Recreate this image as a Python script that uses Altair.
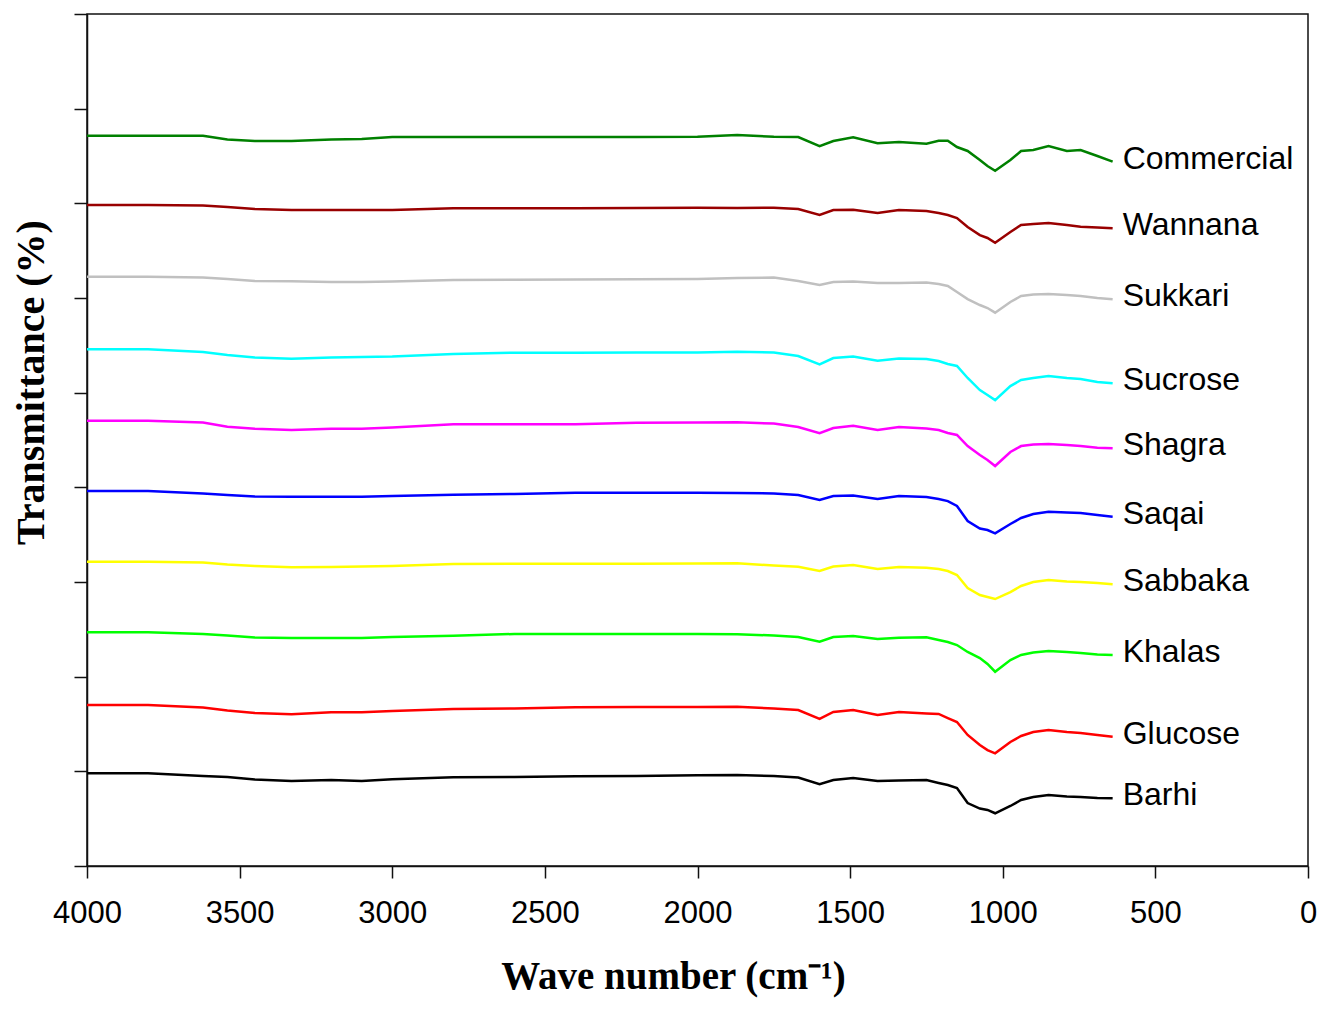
import altair as alt
import pandas as pd

# Wavenumber grid (cm^-1)
wn = [4000, 3800, 3620, 3540, 3450, 3330, 3200, 3100, 3000, 2800, 2600, 2400, 2200, 2000,
      1870, 1750, 1670, 1600, 1555, 1490, 1410, 1340, 1250, 1210, 1180, 1150, 1115, 1075,
      1050, 1025, 975, 940, 900, 850, 790, 745, 690, 640]

commercial = [7.714, 7.714, 7.714, 7.674, 7.658, 7.658, 7.674, 7.679, 7.700, 7.700, 7.700, 7.700, 7.700, 7.704,
              7.722, 7.704, 7.700, 7.605, 7.658, 7.697, 7.634, 7.648, 7.630, 7.661, 7.661, 7.595, 7.553, 7.457,
              7.394, 7.344, 7.457, 7.553, 7.563, 7.605, 7.553, 7.563, 7.500, 7.440]
wannana = [6.982, 6.982, 6.977, 6.961, 6.940, 6.929, 6.929, 6.929, 6.929, 6.947, 6.947, 6.947, 6.950, 6.954,
           6.950, 6.954, 6.940, 6.877, 6.929, 6.933, 6.898, 6.929, 6.919, 6.898, 6.877, 6.845, 6.750, 6.665,
           6.634, 6.584, 6.697, 6.771, 6.781, 6.792, 6.771, 6.753, 6.744, 6.736]
sukkari = [6.225, 6.225, 6.216, 6.200, 6.179, 6.176, 6.169, 6.169, 6.174, 6.190, 6.193, 6.195, 6.197, 6.200,
           6.211, 6.216, 6.179, 6.137, 6.169, 6.174, 6.158, 6.158, 6.164, 6.148, 6.127, 6.063, 5.989, 5.926,
           5.894, 5.845, 5.958, 6.021, 6.037, 6.042, 6.031, 6.021, 6.000, 5.986]
sucrose = [5.458, 5.458, 5.429, 5.398, 5.371, 5.359, 5.371, 5.377, 5.382, 5.408, 5.422, 5.422, 5.424, 5.424,
           5.433, 5.424, 5.387, 5.299, 5.366, 5.382, 5.337, 5.361, 5.355, 5.334, 5.303, 5.282, 5.155, 5.028,
           4.975, 4.922, 5.070, 5.134, 5.155, 5.176, 5.155, 5.144, 5.112, 5.099]
shagra = [4.704, 4.704, 4.685, 4.640, 4.619, 4.605, 4.619, 4.619, 4.632, 4.666, 4.666, 4.666, 4.683, 4.685,
          4.687, 4.674, 4.637, 4.571, 4.627, 4.651, 4.605, 4.637, 4.621, 4.605, 4.574, 4.553, 4.436, 4.341,
          4.289, 4.225, 4.373, 4.436, 4.452, 4.458, 4.447, 4.436, 4.419, 4.412]
saqai = [3.961, 3.961, 3.935, 3.919, 3.903, 3.901, 3.901, 3.901, 3.908, 3.922, 3.929, 3.943, 3.943, 3.943,
         3.940, 3.935, 3.919, 3.866, 3.908, 3.914, 3.877, 3.908, 3.898, 3.877, 3.855, 3.803, 3.644, 3.565,
         3.549, 3.514, 3.613, 3.676, 3.718, 3.742, 3.734, 3.729, 3.708, 3.690]
sabbaka = [3.214, 3.214, 3.206, 3.185, 3.169, 3.155, 3.158, 3.164, 3.169, 3.190, 3.193, 3.193, 3.193, 3.195,
           3.197, 3.174, 3.162, 3.116, 3.164, 3.179, 3.137, 3.158, 3.151, 3.137, 3.116, 3.074, 2.937, 2.863,
           2.841, 2.820, 2.894, 2.958, 3.000, 3.021, 3.005, 3.000, 2.989, 2.976]
khalas = [2.469, 2.469, 2.451, 2.435, 2.414, 2.408, 2.408, 2.408, 2.419, 2.433, 2.451, 2.451, 2.451, 2.451,
          2.447, 2.435, 2.419, 2.369, 2.419, 2.429, 2.398, 2.412, 2.416, 2.387, 2.366, 2.334, 2.261, 2.197,
          2.134, 2.052, 2.176, 2.229, 2.255, 2.271, 2.261, 2.250, 2.234, 2.229]
glucose = [1.701, 1.701, 1.674, 1.643, 1.616, 1.602, 1.624, 1.624, 1.637, 1.658, 1.664, 1.676, 1.680, 1.680,
           1.683, 1.664, 1.648, 1.553, 1.627, 1.648, 1.595, 1.627, 1.611, 1.606, 1.563, 1.521, 1.384, 1.278,
           1.225, 1.190, 1.310, 1.373, 1.415, 1.437, 1.415, 1.405, 1.384, 1.366]
barhi = [0.979, 0.979, 0.951, 0.940, 0.914, 0.898, 0.908, 0.898, 0.916, 0.937, 0.940, 0.948, 0.951, 0.958,
         0.961, 0.951, 0.935, 0.863, 0.908, 0.930, 0.898, 0.903, 0.908, 0.877, 0.856, 0.824, 0.665, 0.607,
         0.592, 0.557, 0.634, 0.697, 0.729, 0.750, 0.734, 0.729, 0.718, 0.715]

names = ["Commercial", "Wannana", "Sukkari", "Sucrose", "Shagra",
         "Saqai", "Sabbaka", "Khalas", "Glucose", "Barhi"]
series = [commercial, wannana, sukkari, sucrose, shagra, saqai, sabbaka, khalas, glucose, barhi]
colors = ["#008000", "#990000", "#C0C0C0", "#00FFFF", "#FF00FF",
          "#0000FF", "#FFFF00", "#00FF00", "#FF0000", "#000000"]

x_ticks = [4000, 3500, 3000, 2500, 2000, 1500, 1000, 500, 0]
y_ticks = [0, 1, 2, 3, 4, 5, 6, 7, 8, 9]

rows = []
for n, vals in zip(names, series):
    for w, v in zip(wn, vals):
        rows.append({"series": n, "wn": w, "val": v})
df = pd.DataFrame(rows)
labels_df = pd.DataFrame({"series": names, "wn": [wn[-1]] * len(names),
                          "val": [s[-1] for s in series]})

x_enc = alt.X("wn:Q",
              scale=alt.Scale(domain=[0, 4000], reverse=True, nice=False, zero=False),
              axis=alt.Axis(values=x_ticks, format="d", grid=False, tickSize=12, tickWidth=1.5,
                            tickColor="#111", domainColor="#111", domainWidth=1.5,
                            labelFont="Liberation Sans", labelFontSize=31, labelColor="#000",
                            labelPadding=20, labelFlush=False, labelOverlap=False,
                            title="Wave number (cm⁻¹)", titleFont="Liberation Serif",
                            titleFontWeight="bold", titleFontSize=39, titleColor="#000",
                            titleX=586, titleY=122, titleAlign="center",
                            titleBaseline="alphabetic"))
y_enc = alt.Y("val:Q",
              scale=alt.Scale(domain=[0, 9], nice=False, zero=False),
              axis=alt.Axis(values=y_ticks, labels=False, grid=False, tickSize=13, tickWidth=1.5,
                            tickColor="#111", domainColor="#111", domainWidth=1.5,
                            title="Transmittance (%)", titleFont="Liberation Serif",
                            titleFontWeight="bold", titleFontSize=40, titleColor="#000",
                            titleAngle=270, titleX=-44, titleY=368, titleAlign="center",
                            titleBaseline="alphabetic"))
color_enc = alt.Color("series:N", scale=alt.Scale(domain=names, range=colors), legend=None)

lines = alt.Chart(df).mark_line(strokeWidth=2.5).encode(
    x=x_enc, y=y_enc, color=color_enc, detail="series:N")

texts = alt.Chart(labels_df).mark_text(
    align="left", baseline="middle", dx=10, dy=-3,
    font="Liberation Sans", fontSize=32, color="#000"
).encode(x="wn:Q", y="val:Q", text="series:N")

chart = alt.layer(lines, texts).properties(
    width=1221, height=852,
    background="white",
    padding={"left": 79, "top": 6, "right": 13, "bottom": 135},
    autosize=alt.AutoSizeParams(type="none"),
).configure_view(
    stroke="#111", strokeWidth=1.5
)

chart.save("out.html", embed_options={"renderer": "svg", "actions": False})
